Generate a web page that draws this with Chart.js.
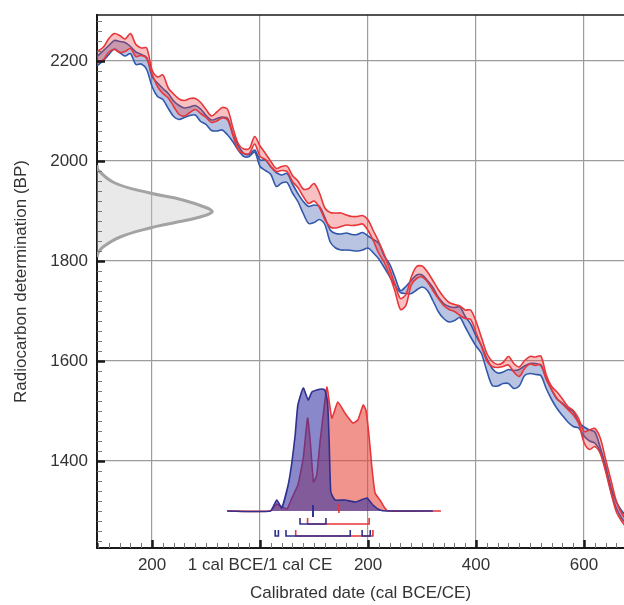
<!DOCTYPE html>
<html>
<head>
<meta charset="utf-8">
<script src="https://cdn.jsdelivr.net/npm/chart.js@4.4.1/dist/chart.umd.min.js"></script>
<style>
  html, body { margin: 0; padding: 0; background: #fff; overflow: hidden; }
  canvas { display: block; }
</style>
</head>
<body>
<canvas id="chart" width="624" height="605"></canvas>
<script>
// calibration curves (years CE, negative = BCE; values in BP)
const years = [-310, -300, -290, -280, -270, -260, -250, -240, -230, -220, -210,
  -200, -190, -180, -170, -160, -150, -140, -130, -120, -110,
  -100, -90, -80, -70, -60, -50, -40, -30, -20, -10, 0,
  10, 20, 30, 40, 50, 60, 70, 80, 90, 100,
  110, 120, 130, 140, 150, 160, 170, 180, 190, 200,
  210, 220, 230, 240, 250, 260, 270, 280, 290, 300, 310, 320,
  330, 340, 350, 360, 370, 380, 390, 400, 410, 420,
  430, 440, 450, 460, 470, 480, 490, 500, 510, 520,
  530, 540, 550, 560, 570, 580, 590, 600, 610, 620,
  630, 640, 650, 660, 670, 680];

const redUpper = [2214, 2220, 2228, 2245, 2255, 2251, 2244, 2255, 2233, 2226, 2226,
  2182, 2168, 2172, 2146, 2134, 2124, 2121, 2125, 2125, 2117,
  2103, 2090, 2098, 2107, 2103, 2065, 2034, 2024, 2025, 2049, 2030,
  2015, 1999, 1985, 1989, 1990, 1971, 1960, 1944, 1945, 1955,
  1936, 1906, 1897, 1896, 1896, 1892, 1889, 1889, 1891, 1882,
  1860, 1838, 1813, 1784, 1753, 1725, 1733, 1768, 1789, 1790, 1778, 1761,
  1743, 1728, 1717, 1713, 1710, 1702, 1702, 1679, 1647, 1615,
  1599, 1593, 1597, 1609, 1595, 1588, 1601, 1609, 1608, 1610,
  1572, 1549, 1538, 1524, 1509, 1501, 1485, 1459, 1462, 1465,
  1446, 1403, 1361, 1319, 1295, 1280];

const redLower = [2192, 2197, 2203, 2218, 2223, 2217, 2219, 2225, 2209, 2211, 2205,
  2174, 2149, 2135, 2126, 2109, 2093, 2090, 2097, 2103, 2095,
  2087, 2077, 2080, 2086, 2082, 2050, 2022, 2015, 2015, 2034, 2009,
  2003, 1989, 1979, 1981, 1979, 1959, 1947, 1929, 1915, 1920,
  1907, 1883, 1868, 1866, 1869, 1872, 1871, 1872, 1874, 1861,
  1840, 1815, 1797, 1771, 1739, 1703, 1711, 1752, 1765, 1768, 1758, 1741,
  1725, 1711, 1703, 1699, 1691, 1685, 1683, 1657, 1629, 1600,
  1589, 1587, 1589, 1592, 1578, 1569, 1585, 1594, 1591, 1593,
  1563, 1543, 1525, 1514, 1503, 1492, 1475, 1437, 1423, 1429,
  1415, 1379, 1336, 1298, 1279, 1265];

const blueUpper = [2205, 2211, 2221, 2231, 2241, 2239, 2237, 2229, 2218, 2213, 2207,
  2169, 2156, 2145, 2135, 2120, 2111, 2106, 2108, 2111, 2104,
  2091, 2082, 2085, 2088, 2085, 2053, 2030, 2015, 2013, 2022, 2002,
  2002, 1988, 1977, 1972, 1975, 1954, 1935, 1919, 1909, 1912,
  1909, 1887, 1862, 1855, 1854, 1856, 1853, 1853, 1857, 1850,
  1843, 1835, 1810, 1794, 1767, 1741, 1749, 1761, 1772, 1772, 1761, 1747,
  1728, 1715, 1709, 1707, 1708, 1689, 1674, 1650, 1631, 1605,
  1585, 1576, 1578, 1583, 1581, 1583, 1590, 1595, 1595, 1591,
  1565, 1542, 1524, 1516, 1505, 1499, 1478, 1468, 1462, 1458,
  1427, 1390, 1347, 1318, 1300, 1288];

const blueLower = [2186, 2192, 2201, 2213, 2224, 2217, 2210, 2215, 2193, 2194, 2183,
  2149, 2129, 2123, 2105, 2089, 2083, 2087, 2091, 2092, 2079,
  2073, 2061, 2060, 2062, 2052, 2038, 2021, 2009, 2009, 2018, 1989,
  1981, 1973, 1949, 1956, 1957, 1936, 1919, 1895, 1875, 1877,
  1883, 1873, 1838, 1826, 1822, 1822, 1821, 1820, 1822, 1826,
  1816, 1804, 1787, 1769, 1751, 1737, 1735, 1735, 1742, 1748, 1741, 1721,
  1699, 1685, 1678, 1681, 1687, 1668, 1648, 1630, 1615, 1580,
  1551, 1550, 1555, 1555, 1545, 1550, 1571, 1575, 1573, 1571,
  1545, 1523, 1505, 1491, 1478, 1469, 1466, 1450, 1440, 1436,
  1419, 1383, 1339, 1305, 1285, 1272];

// measured radiocarbon age (curve along the y axis)
const gaussYears = [-302, -300, -269, -204, -143, -98, -89, -111, -161, -204, -259, -291, -300, -302];
const gaussBP = [1992, 1982, 1956, 1936, 1922, 1906, 1898, 1888, 1876, 1866, 1848, 1828, 1816, 1808];

// calibrated date distributions
const blueDistYears = [-61, 19, 31, 40, 52, 59, 65, 70, 80, 89, 96, 105, 114, 120, 125, 128, 131, 139, 157, 176, 187, 198, 209, 222, 235, 320];
const blueDistBP = [1300, 1300, 1322, 1306, 1352, 1398, 1452, 1512, 1546, 1522, 1538, 1542, 1544, 1542, 1518, 1438, 1338, 1322, 1322, 1318, 1322, 1326, 1312, 1302, 1300, 1300];
const redDistYears = [-61, 19, 31, 41, 50, 59, 70, 80, 88, 93, 99, 105, 111, 117, 124, 133, 144, 157, 172, 181, 191, 196, 202, 207, 213, 222, 231, 237, 335];
const redDistBP = [1300, 1300, 1314, 1308, 1304, 1326, 1352, 1406, 1486, 1438, 1358, 1372, 1438, 1492, 1548, 1486, 1518, 1496, 1476, 1482, 1512, 1502, 1448, 1388, 1336, 1322, 1306, 1300, 1300];

// ranges and medians
const blueRanges68 = [[74, 122]];
const redRanges68 = [[88, 202]];
const blueRanges95 = [[28, 34], [48, 167], [189, 204]];
const redRanges95 = [[66, 209]];
const blueMedian = 98;
const redMedian = 146;

const xMajor = [-200, 0, 200, 400, 600];
const xMajorLabels = ['200', '1 cal BCE/1 cal CE', '200', '400', '600'];
const yMajor = [1400, 1600, 1800, 2000, 2200];

const xMin = -302, xMax = 674, yMin = 1226, yMax = 2292;

const BLUE = '#2f56a8';
const RED = '#e8363a';
const DARKBLUE = '#30308f';

function points(xs, ys) {
  return xs.map((x, i) => ({x, y: ys[i]}));
}

function steps(from, to, step) {
  const out = [];
  for (let v = from; v <= to; v += step) out.push(v);
  return out;
}

function bracket(range, top, bottom, color, order) {
  return {
    data: [{x: range[0], y: top}, {x: range[0], y: bottom}, {x: range[1], y: bottom}, {x: range[1], y: top}],
    borderColor: color, borderWidth: 1.6, fill: false, tension: 0, order
  };
}

const datasets = [
  {data: points(gaussYears, gaussBP), borderColor: '#a3a3a3', borderWidth: 3,
    backgroundColor: 'rgba(200,200,200,0.4)', fill: 'shape', tension: 0.4, order: 20},
  {data: points(years, blueUpper), borderColor: BLUE, backgroundColor: 'rgba(70,100,180,0.38)',
    fill: '+1', tension: 0.3, order: 18},
  {data: points(years, blueLower), borderColor: BLUE, fill: false, tension: 0.3, order: 19},
  {data: points(years, redUpper), borderColor: RED, backgroundColor: 'rgba(232,60,60,0.32)',
    fill: '+1', tension: 0.3, order: 16},
  {data: points(years, redLower), borderColor: RED, fill: false, tension: 0.3, order: 17},
  {data: points(redDistYears, redDistBP), borderColor: RED, backgroundColor: 'rgba(232,70,60,0.58)',
    fill: {value: 1300}, tension: 0.15, order: 10},
  {data: points(blueDistYears, blueDistBP), borderColor: DARKBLUE, backgroundColor: 'rgba(50,50,165,0.58)',
    fill: {value: 1300}, tension: 0.15, order: 9}
];

redRanges68.forEach(r => datasets.push(bracket(r, 1286, 1274, RED, 8)));
redRanges95.forEach(r => datasets.push(bracket(r, 1262, 1250, RED, 8)));
blueRanges68.forEach(r => datasets.push(bracket(r, 1286, 1274, DARKBLUE, 7)));
blueRanges95.forEach(r => datasets.push(bracket(r, 1262, 1250, DARKBLUE, 7)));
datasets.push({data: [{x: redMedian, y: 1314}, {x: redMedian, y: 1296}], borderColor: RED, borderWidth: 1.6, fill: false, order: 6});
datasets.push({data: [{x: blueMedian, y: 1312}, {x: blueMedian, y: 1288}], borderColor: DARKBLUE, borderWidth: 2, fill: false, order: 5});

function isMajorX(v) { return xMajor.includes(v); }
function isMajorY(v) { return yMajor.includes(v); }

// top frame line and inward tick marks (every 20 units)
const frame = {
  id: 'frame',
  afterDraw(chart) {
    const {ctx, chartArea: a, scales: {x, y}} = chart;
    ctx.save();
    ctx.strokeStyle = '#1a1a1a';
    ctx.lineWidth = 1.5;
    ctx.beginPath();
    ctx.moveTo(a.left, a.top);
    ctx.lineTo(a.right, a.top);
    ctx.stroke();
    steps(-300, 660, 20).forEach(v => {
      const major = isMajorX(v);
      const px = Math.round(x.getPixelForValue(v)) + 0.5;
      ctx.strokeStyle = major ? '#1a1a1a' : '#777';
      ctx.lineWidth = major ? 2.5 : 1;
      ctx.beginPath();
      ctx.moveTo(px, a.bottom);
      ctx.lineTo(px, a.bottom - (major ? 8 : 5));
      ctx.stroke();
    });
    steps(1240, 2280, 20).forEach(v => {
      const major = isMajorY(v);
      const py = Math.round(y.getPixelForValue(v)) + 0.5;
      ctx.strokeStyle = major ? '#1a1a1a' : '#777';
      ctx.lineWidth = major ? 2.5 : 1;
      ctx.beginPath();
      ctx.moveTo(a.left, py);
      ctx.lineTo(a.left + (major ? 8 : 5), py);
      ctx.stroke();
    });
    ctx.restore();
  }
};

Chart.defaults.font.family = 'Arial, "Liberation Sans", Helvetica, sans-serif';
Chart.defaults.color = '#333';

new Chart(document.getElementById('chart'), {
  type: 'line',
  data: {datasets},
  options: {
    responsive: false,
    animation: false,
    layout: {padding: {top: 15, left: 0, right: 0, bottom: 0}},
    plugins: {legend: {display: false}, tooltip: {enabled: false}},
    elements: {point: {radius: 0}, line: {borderWidth: 1.6}},
    scales: {
      x: {
        type: 'linear', min: xMin, max: xMax,
        afterBuildTicks(scale) {
          scale.ticks = xMajor.map(v => ({value: v}));
        },
        afterFit(scale) { scale.height = 57; },
        ticks: {
          autoSkip: false, maxRotation: 0, padding: 7,
          font: {size: 17},
          callback: v => xMajorLabels[xMajor.indexOf(v)]
        },
        grid: {color: '#9c9c9c', lineWidth: 1.2, drawTicks: false},
        border: {color: '#1a1a1a', width: 2},
        title: {display: true, text: 'Calibrated date (cal BCE/CE)', font: {size: 17}, padding: {top: 0, bottom: 1}}
      },
      y: {
        type: 'linear', min: yMin, max: yMax,
        afterBuildTicks(scale) {
          scale.ticks = yMajor.map(v => ({value: v}));
        },
        afterFit(scale) { scale.width = 97; },
        ticks: {
          autoSkip: false, padding: 9,
          font: {size: 17, lineHeight: 0.6},
          callback: v => String(v)
        },
        grid: {color: '#9c9c9c', lineWidth: 1.2, drawTicks: false},
        border: {color: '#1a1a1a', width: 2},
        title: {display: true, text: 'Radiocarbon determination (BP)', font: {size: 17}, padding: {top: 11, bottom: 0}}
      }
    }
  },
  plugins: [frame]
});
</script>
</body>
</html>
